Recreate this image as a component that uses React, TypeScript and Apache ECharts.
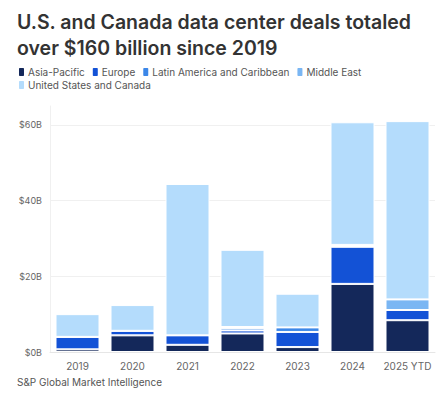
import React, { useEffect, useRef } from "react";
import * as echarts from "echarts";

const categories = ["2019", "2020", "2021", "2022", "2023", "2024", "2025 YTD"];
const asiaPacific = [0.7, 4.4, 1.9, 4.9, 1.3, 18.0, 8.4];
const europe = [3.3, 1.2, 2.5, 0.8, 4.0, 9.8, 2.7];
const latinAmerica = [0, 0, 0, 0.6, 1.2, 0.2, 0];
const middleEast = [0, 0, 0, 0.3, 0, 0.3, 2.8];
const usCanada = [6.0, 6.8, 40.0, 20.4, 8.9, 32.4, 47.1];
const yTicks = [0, 20, 40, 60];

const seriesDefs = [
  { name: "Asia-Pacific", data: asiaPacific, color: "#14285a" },
  { name: "Europe", data: europe, color: "#1352d6" },
  { name: "Latin America and Caribbean", data: latinAmerica, color: "#3c87e8" },
  { name: "Middle East", data: middleEast, color: "#7ab6f3" },
  { name: "United States and Canada", data: usCanada, color: "#b4dcfc" },
];

const FONT = "Inter, 'Noto Sans', sans-serif";

const legendBase = {
  left: 12,
  itemWidth: 7,
  itemHeight: 10,
  itemGap: 6,
  padding: [0, 0, 0, 5],
  icon: "roundRect",
  textStyle: { fontFamily: FONT, fontSize: 10, color: "#555555", padding: [0, 0, 0, -2] },
};

export default function App() {
  const ref = useRef<HTMLDivElement>(null);
  useEffect(() => {
    if (!ref.current) return;
    const chart = echarts.init(ref.current, undefined, { renderer: "svg" });
    chart.setOption({
      animation: false,
      backgroundColor: "#ffffff",
      textStyle: { fontFamily: FONT },
      title: {
        text: "U.S. and Canada data center deals totaled\nover $160 billion since 2019",
        left: 12,
        top: 4,
        textStyle: {
          fontFamily: FONT,
          fontSize: 19.5,
          fontWeight: 600,
          color: "#333333",
          lineHeight: 26,
        },
      },
      legend: [
        { ...legendBase, top: 66, data: seriesDefs.slice(0, 4).map((s) => s.name) },
        { ...legendBase, top: 79, data: seriesDefs.slice(4).map((s) => s.name) },
      ],
      grid: { left: 50, right: 8, top: 106, bottom: 44 },
      xAxis: {
        type: "category",
        data: categories,
        axisLine: { lineStyle: { color: "#e6e6e6" } },
        axisTick: { show: false },
        axisLabel: { fontFamily: FONT, fontSize: 10, color: "#666666", margin: 9, interval: 0 },
      },
      yAxis: {
        type: "value",
        min: 0,
        max: 65,
        interval: 20,
        axisLine: { show: true, lineStyle: { color: "#f0f0f0" } },
        axisTick: { show: false },
        splitLine: { show: true, showMaxLine: false, lineStyle: { color: "#f0f0f0" } },
        axisLabel: {
          fontFamily: FONT,
          fontSize: 9,
          color: "#666666",
          margin: 8,
          showMaxLabel: false,
          formatter: (v: number) => (yTicks.includes(v) ? `$${v}B` : ""),
        },
      },
      series: seriesDefs.map((s) => ({
        name: s.name,
        type: "bar",
        stack: "total",
        barCategoryGap: "20%",
        data: s.data,
        itemStyle: { color: s.color, borderColor: "#ffffff", borderWidth: 1 },
      })),
      graphic: [
        {
          type: "text",
          left: 17,
          top: 377,
          style: {
            text: "S&P Global Market Intelligence",
            fontFamily: FONT,
            fontSize: 10,
            fill: "#555555",
          },
        },
      ],
    });
    return () => chart.dispose();
  }, []);
  return (
    <div
      ref={ref}
      style={{ position: "fixed", left: 0, top: 0, width: 443, height: 396 }}
    />
  );
}
